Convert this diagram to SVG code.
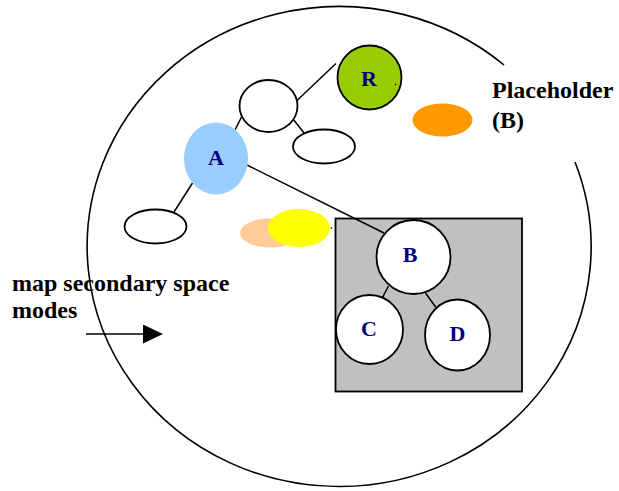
<svg xmlns="http://www.w3.org/2000/svg" width="619" height="491" viewBox="0 0 619 491">
  <defs>
    <style>
      .outline { fill: none; stroke: #000; stroke-width: 1.6; }
      .node { stroke: #000; stroke-width: 1.8; }
      .plain { fill: #fff; }
      .edge { stroke: #000; stroke-width: 1.5; fill: none; }
      .lbl { font-family: "Liberation Serif", "Times New Roman", serif; font-weight: bold; font-size: 22px; fill: #000080; text-anchor: middle; }
      .caption { font-family: "Liberation Serif", "Times New Roman", serif; font-weight: bold; font-size: 24px; fill: #000; }
    </style>
    <marker id="arrowhead" markerWidth="20" markerHeight="20" refX="0" refY="9.5" markerUnits="userSpaceOnUse" orient="auto">
      <path d="M0,0 L20,9.5 L0,19 Z" fill="#000"/>
    </marker>
  </defs>

  <rect width="619" height="491" fill="#fff"/>

  <!-- outer space boundary, open on the upper right -->
  <path class="outline" d="M 575 162 A 252 240 0 1 1 504 65"/>

  <!-- grey region holding the B subtree -->
  <rect id="region" x="335.5" y="218.5" width="186.5" height="173" fill="#c0c0c0" stroke="#000" stroke-width="1.8"/>

  <!-- connectors -->
  <g id="connectors" class="edge">
    <line x1="336" y1="63.5" x2="297.5" y2="100"/>
    <line x1="293" y1="119" x2="304" y2="133"/>
    <line x1="241.5" y1="117" x2="235" y2="130"/>
    <line x1="247" y1="165" x2="384" y2="233"/>
    <line x1="192.5" y1="183" x2="174" y2="212"/>
    <line x1="388.5" y1="286" x2="382.5" y2="297.5"/>
    <line x1="425.5" y1="293" x2="436" y2="307.5"/>
    <line x1="86" y1="334" x2="143" y2="334" marker-end="url(#arrowhead)"/>
  </g>

  <!-- nodes -->
  <g id="node-r">
    <ellipse class="node" cx="369.5" cy="77.5" rx="32" ry="32" fill="#99cc00"/>
    <text class="lbl" x="369" y="86">R</text>
    <circle cx="395.5" cy="84.5" r="0.8" fill="#000"/>
  </g>
  <g id="node-top">
    <ellipse class="node plain" cx="268.5" cy="106" rx="29" ry="26"/>
  </g>
  <g id="node-right-leaf">
    <ellipse class="node plain" cx="324" cy="146.5" rx="31" ry="17"/>
  </g>
  <g id="node-a">
    <ellipse cx="216" cy="158.5" rx="32" ry="36" fill="#99ccff"/>
    <text class="lbl" x="216" y="165">A</text>
  </g>
  <g id="node-left-leaf">
    <ellipse class="node plain" cx="155.5" cy="226.5" rx="31" ry="17"/>
  </g>
  <g id="placeholder-peach">
    <ellipse cx="270" cy="233" rx="30" ry="14.5" fill="#ffcc99"/>
  </g>
  <g id="placeholder-yellow">
    <ellipse cx="299" cy="228" rx="31" ry="19" fill="#ffff00"/>
    <circle cx="331.5" cy="228" r="0.8" fill="#000"/>
  </g>
  <g id="placeholder-orange">
    <ellipse cx="442.5" cy="120" rx="30" ry="16.5" fill="#ff9900"/>
  </g>
  <g id="node-b">
    <ellipse class="node plain" cx="413.5" cy="257" rx="37" ry="37"/>
    <text class="lbl" x="410" y="262">B</text>
  </g>
  <g id="node-c">
    <ellipse class="node plain" cx="369.5" cy="329.5" rx="33.5" ry="34.5"/>
    <text class="lbl" x="369" y="336">C</text>
  </g>
  <g id="node-d">
    <ellipse class="node plain" cx="457.5" cy="335" rx="32.5" ry="35.5"/>
    <text class="lbl" x="457.5" y="341">D</text>
  </g>

  <!-- captions -->
  <g id="caption-placeholder">
    <text class="caption" x="492" y="98">Placeholder</text>
    <text class="caption" x="492" y="128">(B)</text>
  </g>
  <g id="caption-modes">
    <text class="caption" x="12" y="291">map secondary space</text>
    <text class="caption" x="12" y="318">modes</text>
  </g>
</svg>
